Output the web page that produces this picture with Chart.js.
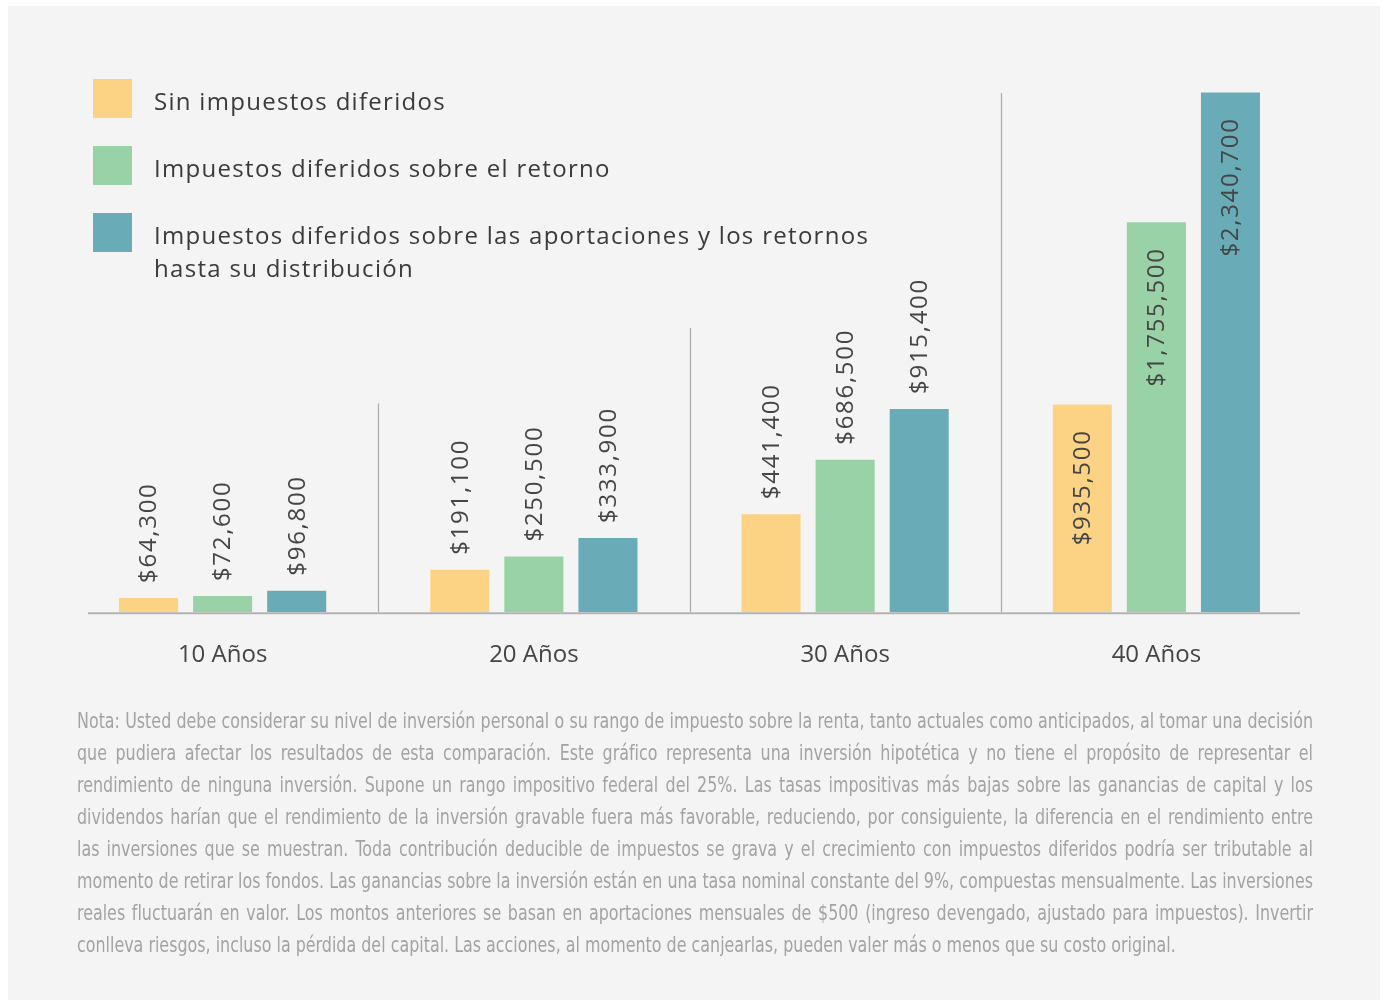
<!DOCTYPE html>
<html lang="es">
<head>
<meta charset="utf-8">
<script src="https://cdn.jsdelivr.net/npm/chart.js@4"></script>
<style>
  html, body { margin:0; padding:0; background:#fff; }
  body { width:1382px; height:1004px; position:relative; overflow:hidden; }
  #panel { position:absolute; left:8px; top:6px; width:1372px; height:994px; background:#f4f4f4; }
  #chart-wrap { position:absolute; left:0; top:0; width:1382px; height:734px; }
  #legend { position:absolute; left:93px; top:79px; font-family:"Open Sans", sans-serif; font-weight:500; font-size:24px; color:#3a3a3a; letter-spacing:1.3px; }
  .lg-item { position:absolute; left:0; white-space:nowrap; }
  .lg-box { position:absolute; left:0; top:0; width:39px; height:39px; }
  .lg-text { position:absolute; left:61px; top:5px; line-height:33px; }
  #nota { position:absolute; left:77px; top:705px; width:1236px; font-family:"Liberation Sans Narrow", "DejaVu Sans Condensed", "Liberation Sans", sans-serif; font-size:21px; line-height:32px; color:#a3a3a5; }
  #nota div { white-space:nowrap; width:max-content; transform-origin:0 0; }
</style>
</head>
<body>
<div id="panel"></div>
<div id="chart-wrap"><canvas id="chart" width="1382" height="734"></canvas></div>
<div id="legend"></div>
<div id="nota"></div>

<script>
// datos del gráfico
const categorias = ['10 Años', '20 Años', '30 Años', '40 Años'];
const sinImpuestos = [64300, 191100, 441400, 935500];
const diferidosRetorno = [72600, 250500, 686500, 1755500];
const diferidosAportaciones = [96800, 333900, 915400, 2340700];
const seriesNombres = [
  ['Sin impuestos diferidos'],
  ['Impuestos diferidos sobre el retorno'],
  ['Impuestos diferidos sobre las aportaciones y los retornos', 'hasta su distribución']
];
const colores = ['#fcd385', '#98d2a6', '#6aabb8'];
// etiquetas dentro de la barra (solo 40 años)
const etiquetaDentro = [false, false, false, true];
// altura de los separadores verticales (en valores del eje y)
const separadores = [940000, 1280000, 2338000];

const nota = [
  'Nota: Usted debe considerar su nivel de inversión personal o su rango de impuesto sobre la renta, tanto actuales como anticipados, al tomar una decisión',
  'que pudiera afectar los resultados de esta comparación. Este gráfico representa una inversión hipotética y no tiene el propósito de representar el',
  'rendimiento de ninguna inversión. Supone un rango impositivo federal del 25%. Las tasas impositivas más bajas sobre las ganancias de capital y los',
  'dividendos harían que el rendimiento de la inversión gravable fuera más favorable, reduciendo, por consiguiente, la diferencia en el rendimiento entre',
  'las inversiones que se muestran. Toda contribución deducible de impuestos se grava y el crecimiento con impuestos diferidos podría ser tributable al',
  'momento de retirar los fondos. Las ganancias sobre la inversión están en una tasa nominal constante del 9%, compuestas mensualmente. Las inversiones',
  'reales fluctuarán en valor. Los montos anteriores se basan en aportaciones mensuales de $500 (ingreso devengado, ajustado para impuestos). Invertir',
  'conlleva riesgos, incluso la pérdida del capital. Las acciones, al momento de canjearlas, pueden valer más o menos que su costo original.'
];

// leyenda en HTML
const legend = document.getElementById('legend');
const legendTops = [0, 67, 134];
seriesNombres.forEach((lineas, i) => {
  const item = document.createElement('div');
  item.className = 'lg-item';
  item.style.top = legendTops[i] + 'px';
  item.innerHTML = `<div class="lg-box" style="background:${colores[i]}"></div>
    <div class="lg-text">${lineas.join('<br>')}</div>`;
  legend.appendChild(item);
});

// nota al pie: texto justificado y comprimido al ancho del bloque
const notaEl = document.getElementById('nota');
notaEl.innerHTML = nota.map(l => `<div>${l}</div>`).join('');
const anchoNota = 1236;
const filas = [...notaEl.children];
const anchos = filas.map(f => f.getBoundingClientRect().width);
const escala = Math.min(1, anchoNota / Math.max(...anchos));
filas.forEach((f, i) => {
  if(i < filas.length - 1){
    const espacios = (f.textContent.match(/ /g) || []).length;
    const extra = (anchoNota / escala - anchos[i]) / espacios;
    f.style.wordSpacing = extra + 'px';
  }
  f.style.transform = `scaleX(${escala})`;
});

const fmt = v => '$' + v.toLocaleString('en-US');

// separadores y línea base
const decoracion = {
  id: 'decoracion',
  beforeDatasetsDraw(chart){
    const {ctx, chartArea, scales:{x, y}} = chart;
    ctx.save();
    ctx.strokeStyle = '#aaaaaa';
    ctx.lineWidth = 1.2;
    separadores.forEach((v, i) => {
      const px = Math.round((x.getPixelForValue(i) + x.getPixelForValue(i + 1)) / 2) + 0.5;
      ctx.beginPath();
      ctx.moveTo(px, y.getPixelForValue(v));
      ctx.lineTo(px, chartArea.bottom);
      ctx.stroke();
    });
    ctx.restore();
  },
  afterDatasetsDraw(chart){
    const {ctx, chartArea} = chart;
    ctx.save();
    ctx.strokeStyle = '#b3b3b3';
    ctx.lineWidth = 2;
    ctx.beginPath();
    ctx.moveTo(chartArea.left + 21, chartArea.bottom + 1);
    ctx.lineTo(chartArea.right - 12, chartArea.bottom + 1);
    ctx.stroke();

    // etiquetas de valores giradas
    ctx.font = '400 24px "Open Sans"';
    ctx.letterSpacing = '1.7px';
    ctx.fillStyle = '#454545';
    ctx.textBaseline = 'middle';
    chart.data.datasets.forEach((ds, di) => {
      const meta = chart.getDatasetMeta(di);
      meta.data.forEach((bar, i) => {
        const dentro = etiquetaDentro[i];
        ctx.save();
        ctx.translate(bar.x, dentro ? bar.y + 25 : bar.y - 15);
        ctx.rotate(-Math.PI / 2);
        ctx.textAlign = dentro ? 'right' : 'left';
        ctx.fillText(fmt(ds.data[i]), 0, 1);
        ctx.restore();
      });
    });
    ctx.restore();
  }
};

new Chart(document.getElementById('chart'), {
  type: 'bar',
  data: {
    labels: categorias,
    datasets: [
      { label: seriesNombres[0].join(' '), data: sinImpuestos, backgroundColor: colores[0] },
      { label: seriesNombres[1].join(' '), data: diferidosRetorno, backgroundColor: colores[1] },
      { label: seriesNombres[2].join(' '), data: diferidosAportaciones, backgroundColor: colores[2] }
    ]
  },
  options: {
    responsive: false,
    animation: false,
    categoryPercentage: 0.714,
    barPercentage: 0.797,
    layout: { padding: { left: 67, right: 70, top: 57, bottom: 43 } },
    plugins: { legend: { display: false }, tooltip: { enabled: false } },
    scales: {
      y: { display: false, min: 0, max: 2500000 },
      x: {
        grid: { display: false },
        border: { display: false },
        ticks: {
          padding: 21,
          color: '#444',
          font: { family: '"Open Sans"', size: 24, weight: '500' }
        }
      }
    }
  },
  plugins: [decoracion]
});
</script>
</body>
</html>
